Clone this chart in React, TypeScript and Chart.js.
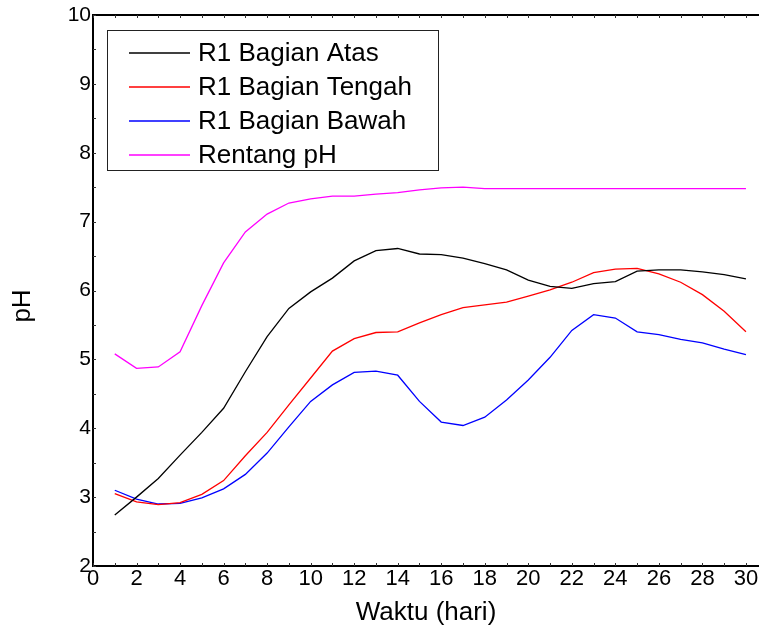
import React, { useEffect, useRef } from "react";
import { Chart, registerables } from "chart.js";

Chart.register(...registerables);

const days = [1, 2, 3, 4, 5, 6, 7, 8, 9, 10, 11, 12, 13, 14, 15, 16, 17, 18, 19, 20, 21, 22, 23, 24, 25, 26, 27, 28, 29, 30];

const atas = [2.74, 3.0, 3.27, 3.61, 3.94, 4.29, 4.82, 5.33, 5.74, 5.98, 6.18, 6.43, 6.58, 6.61, 6.53, 6.52, 6.47, 6.39, 6.3, 6.15, 6.06, 6.03, 6.1, 6.13, 6.28, 6.3, 6.3, 6.27, 6.23, 6.17];
const tengah = [3.05, 2.93, 2.89, 2.92, 3.04, 3.24, 3.6, 3.94, 4.34, 4.73, 5.12, 5.3, 5.39, 5.4, 5.53, 5.65, 5.75, 5.79, 5.83, 5.92, 6.01, 6.12, 6.26, 6.31, 6.32, 6.24, 6.12, 5.94, 5.7, 5.4];
const bawah = [3.1, 2.97, 2.9, 2.91, 2.99, 3.12, 3.33, 3.64, 4.02, 4.39, 4.63, 4.81, 4.83, 4.77, 4.39, 4.09, 4.04, 4.16, 4.41, 4.7, 5.03, 5.42, 5.65, 5.6, 5.4, 5.36, 5.29, 5.24, 5.15, 5.07];
const rentang = [5.08, 4.87, 4.89, 5.11, 5.78, 6.4, 6.85, 7.11, 7.27, 7.33, 7.37, 7.37, 7.4, 7.42, 7.46, 7.49, 7.5, 7.48, 7.48, 7.48, 7.48, 7.48, 7.48, 7.48, 7.48, 7.48, 7.48, 7.48, 7.48, 7.48];

const seriesLabels = ["R1 Bagian Atas", "R1 Bagian Tengah", "R1 Bagian Bawah", "Rentang pH"];
const seriesColors = ["#000000", "#ff0000", "#0000ff", "#ff00ff"];
const xTicks = [0, 2, 4, 6, 8, 10, 12, 14, 16, 18, 20, 22, 24, 26, 28, 30];
const yTicks = [2, 3, 4, 5, 6, 7, 8, 9, 10];

const FONT = "'Liberation Sans', Arial, sans-serif";

const framePlugin = {
  id: "frame",
  afterDraw(chart: any) {
    const { ctx, chartArea, scales } = chart;
    const xs = scales.x;
    const ys = scales.y;
    ctx.save();
    // top border
    ctx.strokeStyle = "#000";
    ctx.lineWidth = 2;
    ctx.beginPath();
    ctx.moveTo(chartArea.left, chartArea.top);
    ctx.lineTo(chartArea.right, chartArea.top);
    ctx.stroke();
    // small inward ticks
    ctx.lineWidth = 1;
    ctx.strokeStyle = "#333";
    for (let v = 0; v <= 30; v += 1) {
      const px = Math.round(xs.getPixelForValue(v)) + 0.5;
      ctx.beginPath();
      ctx.moveTo(px, chartArea.bottom);
      ctx.lineTo(px, chartArea.bottom - 3);
      ctx.moveTo(px, chartArea.top);
      ctx.lineTo(px, chartArea.top + 3);
      ctx.stroke();
    }
    for (let v = 2; v <= 10; v += 0.5) {
      const py = Math.round(ys.getPixelForValue(v)) + 0.5;
      ctx.beginPath();
      ctx.moveTo(chartArea.left, py);
      ctx.lineTo(chartArea.left + 3, py);
      ctx.stroke();
    }
    // legend box
    const bx = 107, by = 30, bw = 331, bh = 140;
    ctx.fillStyle = "#fff";
    ctx.fillRect(bx, by, bw, bh);
    ctx.strokeStyle = "#222";
    ctx.lineWidth = 1;
    ctx.strokeRect(bx + 0.5, by + 0.5, bw, bh);
    ctx.font = "26px " + FONT;
    ctx.textBaseline = "middle";
    ctx.textAlign = "left";
    seriesLabels.forEach((label, i) => {
      const y = 53 + i * 34;
      ctx.strokeStyle = seriesColors[i];
      ctx.lineWidth = 1.3;
      ctx.beginPath();
      ctx.moveTo(129, y);
      ctx.lineTo(190, y);
      ctx.stroke();
      ctx.fillStyle = "#000";
      ctx.fillText(label, 198, y + 1);
    });
    // y title
    ctx.save();
    ctx.translate(23, 306);
    ctx.rotate(-Math.PI / 2);
    ctx.textAlign = "center";
    ctx.textBaseline = "middle";
    ctx.fillStyle = "#000";
    ctx.font = "26px " + FONT;
    ctx.fillText("pH", 0, 0);
    ctx.restore();
    ctx.restore();
  },
};

export default function App() {
  const ref = useRef<HTMLCanvasElement | null>(null);
  useEffect(() => {
    if (!ref.current) return;
    const values = [atas, tengah, bawah, rentang];
    const chart = new Chart(ref.current, {
      type: "line",
      data: {
        labels: days,
        datasets: values.map((vals, i) => ({
          label: seriesLabels[i],
          data: days.map((d, j) => ({ x: d, y: vals[j] })),
          borderColor: seriesColors[i],
          backgroundColor: seriesColors[i],
          borderWidth: 1.3,
          pointRadius: 0,
          tension: 0,
          fill: false,
        })),
      },
      options: {
        animation: false,
        responsive: false,
        maintainAspectRatio: false,
        layout: { padding: { top: 15, right: 0, left: 0, bottom: 0 } },
        plugins: { legend: { display: false }, tooltip: { enabled: false } },
        scales: {
          x: {
            type: "linear",
            min: 0,
            max: 30.6,
            afterBuildTicks: (scale: any) => {
              scale.ticks = xTicks.map((v) => ({ value: v }));
            },
            afterFit: (scale: any) => {
              scale.height = 62;
            },
            grid: { display: false, drawTicks: false },
            border: { display: true, color: "#000", width: 2 },
            ticks: {
              color: "#000",
              font: { family: FONT, size: 22 },
              padding: 0,
              maxRotation: 0,
              autoSkip: false,
            },
            title: {
              display: true,
              text: "Waktu (hari)",
              color: "#000",
              font: { family: FONT, size: 26 },
              padding: { top: 0, bottom: 0 },
            },
          },
          y: {
            type: "linear",
            min: 2,
            max: 10,
            afterBuildTicks: (scale: any) => {
              scale.ticks = yTicks.map((v) => ({ value: v }));
            },
            afterFit: (scale: any) => {
              scale.width = 93;
            },
            grid: { display: false, drawTicks: false },
            border: { display: true, color: "#000", width: 2 },
            ticks: {
              color: "#000",
              font: { family: FONT, size: 21 },
              padding: 2,
              autoSkip: false,
            },
          },
        },
      },
      plugins: [framePlugin],
    });
    return () => chart.destroy();
  }, []);
  return (
    <div style={{ position: "fixed", left: 0, top: 0, width: 759, height: 628, background: "#fff" }}>
      <canvas ref={ref} width={759} height={628} style={{ width: 759, height: 628, display: "block" }} />
    </div>
  );
}
